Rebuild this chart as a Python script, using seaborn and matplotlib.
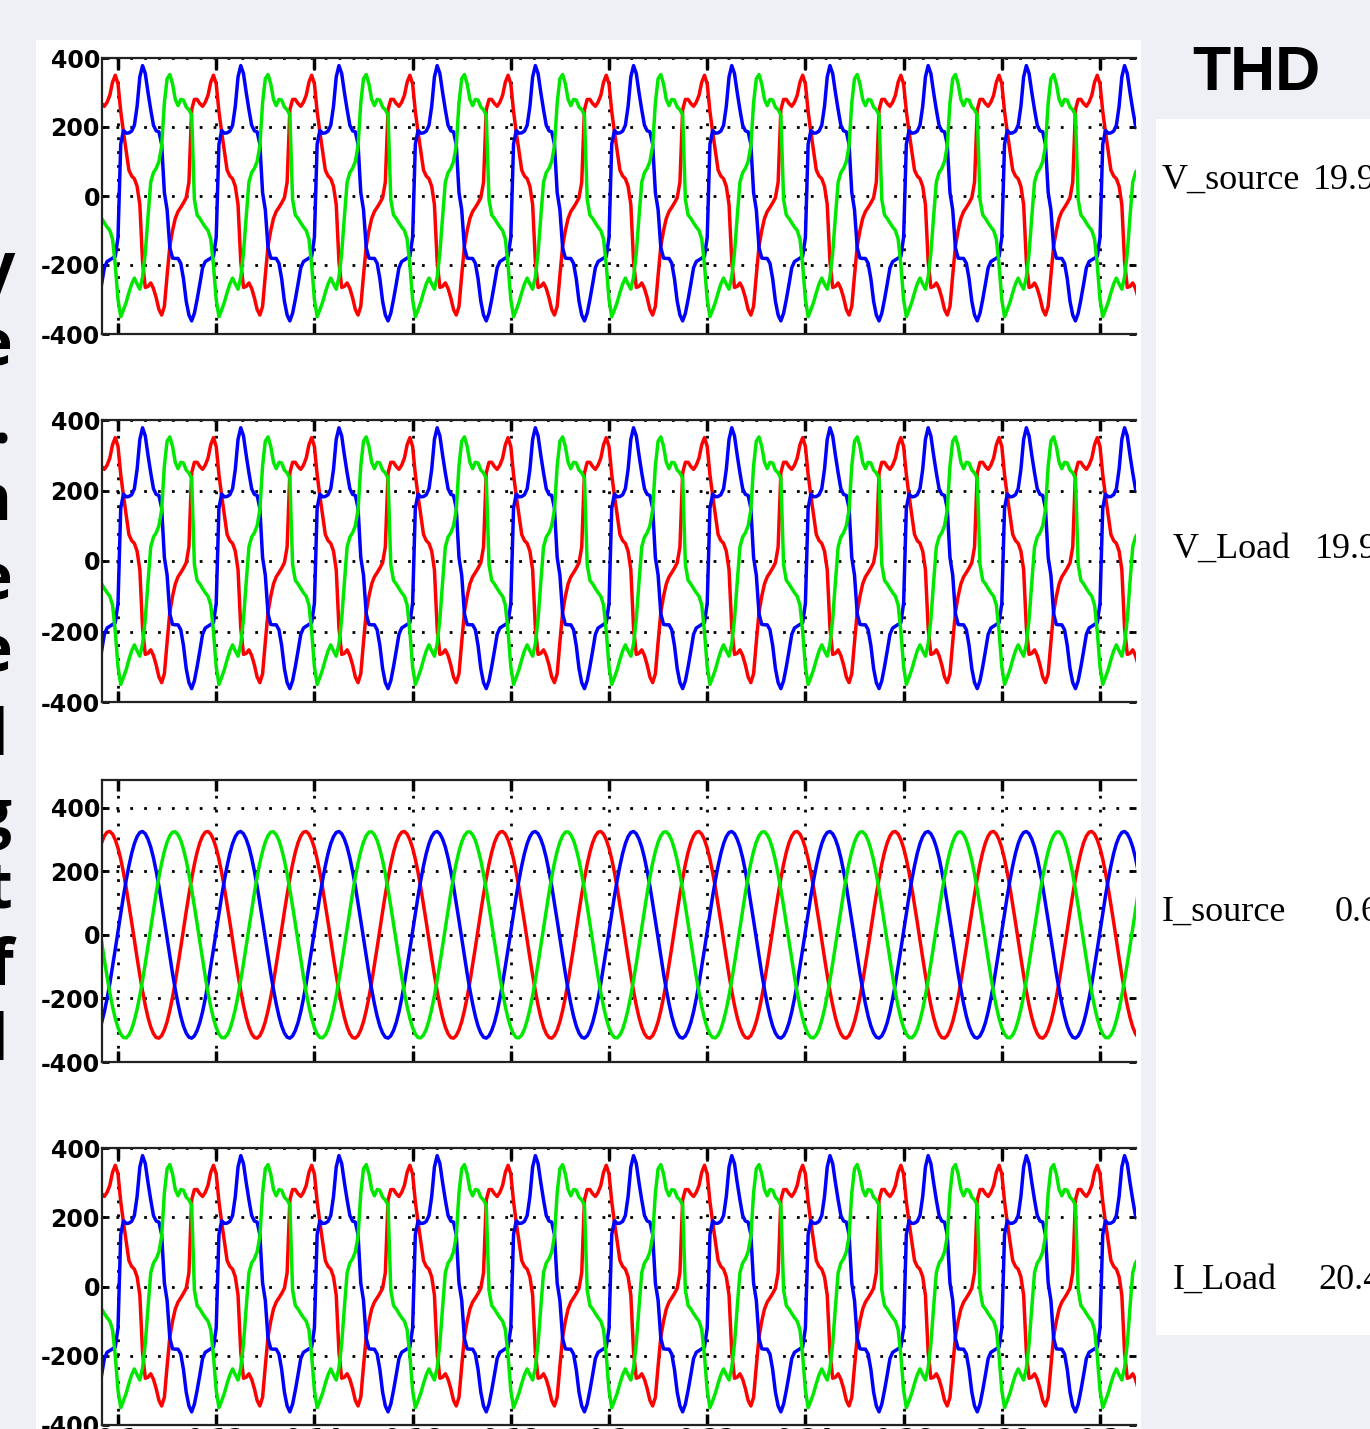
import numpy as np
import pandas as pd
import matplotlib
matplotlib.use("Agg")
import matplotlib.pyplot as plt
import seaborn as sns
from matplotlib.patches import Rectangle

# one cycle of each phase, every 10 deg, starting at a grid line
dist_a = [325, 245, 185, 130, 75, 58, 50, 28, -25, -190, -265, -262,
          -252, -268, -295, -329, -345, -320, -230, -145, -100, -65, -45, -33,
          -20, -5, 40, 250, 280, 280, 268, 260, 272, 292, 330, 350]
dist_b = [-120, 150, 190, 182, 183, 188, 205, 260, 345, 378, 355, 300,
          250, 205, 189, 186, 150, 10, -40, -150, -180, -181, -181, -195,
          -240, -305, -345, -362, -340, -300, -255, -208, -190, -185, -180, -175]
dist_c = [-300, -350, -330, -308, -280, -255, -238, -255, -270, -235, -165, -60,
          40, 68, 80, 100, 145, 270, 340, 352, 325, 280, 262, 280,
          278, 258, 250, 235, -10, -55, -65, -78, -90, -100, -125, -200]

sine_a = [273, 238, 196, 148, 95, 40, -17, -73, -127, -177, -222, -260,
          -290, -311, -323, -325, -317, -299, -273, -238, -196, -148, -95, -40,
          17, 73, 127, 177, 222, 260, 290, 311, 323, 325, 317, 299]
sine_b = [11, 68, 122, 172, 217, 256, 287, 309, 322, 325, 318, 301,
          276, 242, 200, 153, 100, 45, -11, -68, -122, -172, -217, -256,
          -287, -309, -322, -325, -318, -301, -276, -242, -200, -153, -100, -45]
sine_c = [-292, -312, -323, -324, -315, -297, -269, -234, -191, -142, -90, -34,
          23, 79, 132, 182, 226, 263, 292, 312, 323, 324, 315, 297,
          269, 234, 191, 142, 90, 34, -23, -79, -132, -182, -226, -263]

t_ticks = [0.1, 0.12, 0.14, 0.16, 0.18, 0.2, 0.22, 0.24, 0.26, 0.28, 0.3]
t_labels = ["0.1", "0.12", "0.14", "0.16", "0.18", "0.2", "0.22", "0.24", "0.26", "0.28", "0.3"]
y_ticks = [-400, -200, 0, 200, 400]

thd_names = ["V_source", "V_Load", "I_source", "I_Load"]
thd_values = ["19.9", "19.9", "0.6", "20.4"]
side_letters = ["y", "e", ".", "n", "e", "e", "l", "g", "t", "f", "l"]

W, H = 1370, 1429
plt.rcParams["axes.unicode_minus"] = False

fig = plt.figure(figsize=(W / 100, H / 100), dpi=100)
fig.patch.set_facecolor("#eef0f5")
fig.add_artist(Rectangle((36 / W, 0), 1105 / W, 1389 / H, transform=fig.transFigure,
                         fc="white", ec="none", zorder=0))
fig.add_artist(Rectangle((1156 / W, 1 - 1335 / H), 214 / W, 1216 / H, transform=fig.transFigure,
                         fc="white", ec="none", zorder=0))

step = 0.02 / 36
k = np.arange(-6, 375)
t = 0.1 + k * step


def cycle_frame(a, b, c):
    idx = k % 36
    return pd.DataFrame({
        "t": np.concatenate([t, t, t]),
        "value": np.concatenate([np.array(a)[idx], np.array(b)[idx], np.array(c)[idx]]),
        "phase": ["a"] * len(t) + ["b"] * len(t) + ["c"] * len(t),
    })


panels = [
    (58, 334, cycle_frame(dist_a, dist_b, dist_c), (-400, 400)),
    (420, 702, cycle_frame(dist_a, dist_b, dist_c), (-400, 400)),
    (780, 1062, cycle_frame(sine_a, sine_b, sine_c), (-400, 487)),
    (1148, 1425, cycle_frame(dist_a, dist_b, dist_c), (-400, 400)),
]
colors = {"a": "#ff0000", "b": "#0000ff", "c": "#00e800"}

for i, (top, bottom, df, ylim) in enumerate(panels):
    ax = fig.add_axes([102 / W, 1 - bottom / H, 1034 / W, (bottom - top) / H])
    ax.set_facecolor("white")
    sns.lineplot(data=df, x="t", y="value", hue="phase", palette=colors,
                 hue_order=["a", "b", "c"], estimator=None, sort=False,
                 linewidth=2.5, legend=False, ax=ax)
    ax.set_xlim(0.09674, 0.30733)
    ax.set_ylim(*ylim)
    ax.set_xticks(t_ticks)
    ax.set_yticks(y_ticks)
    ax.set_xlabel("")
    ax.set_ylabel("")
    ax.grid(True, color="black", linestyle=(0, (1, 4)), linewidth=2)
    ax.tick_params(axis="x", direction="in", length=8, width=2.5, top=True, bottom=True,
                   pad=1.5, labelsize=17)
    ax.tick_params(axis="y", direction="in", length=5, width=2, left=True, right=True,
                   pad=1.5, labelsize=17)
    if i < 3:
        ax.set_xticklabels([])
    else:
        ax.set_xticklabels(t_labels)
    for lab in ax.get_xticklabels() + ax.get_yticklabels():
        lab.set_fontweight("bold")
        lab.set_family("DejaVu Sans")
    for side in ["top", "bottom", "left"]:
        ax.spines[side].set_linewidth(1.6)
        ax.spines[side].set_color("#222222")
    ax.spines["right"].set_visible(False)

fig.text(1256 / W, 1 - 73 / H, "THD", ha="center", va="center", fontsize=45,
         fontweight="bold", family="Liberation Sans")

name_x = [1162, 1173, 1162, 1173]
value_x = [1313, 1315, 1335, 1318]
baselines = [189, 558, 921, 1289]
for name, val, nx, vx, yb in zip(thd_names, thd_values, name_x, value_x, baselines):
    fig.text(nx / W, 1 - yb / H, name, ha="left", va="baseline", fontsize=26,
             family="Liberation Serif")
    fig.text(vx / W, 1 - yb / H, val, ha="left", va="baseline", fontsize=26,
             family="Liberation Serif")

letter_base = [288, 365, 443, 520, 600, 672, 755, 835, 908, 985, 1060]
letter_x = [14, 12, 10, 12, 12, 12, 8, 12, 12, 13, 8]
for ch, xb, yb in zip(side_letters, letter_x, letter_base):
    fig.text(xb / W, 1 - yb / H, ch, ha="right", va="baseline", fontsize=46,
             fontweight="bold", family="Open Sans")

fig.savefig("out.png", dpi=100)
